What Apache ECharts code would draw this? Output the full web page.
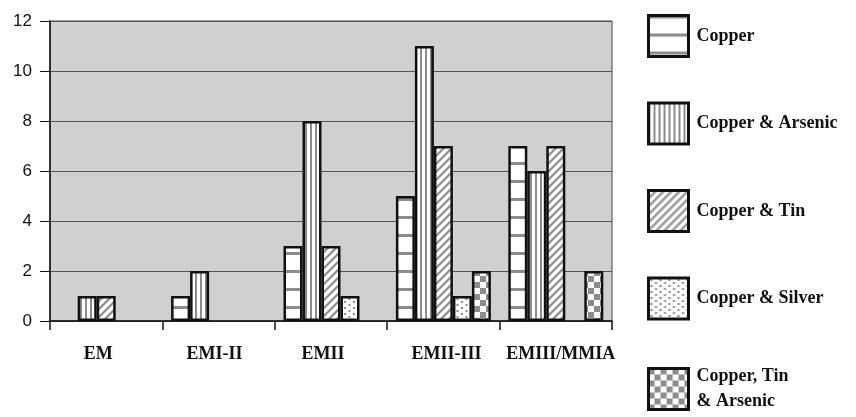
<!DOCTYPE html>
<html>
<head>
<meta charset="utf-8">
<script src="https://cdn.jsdelivr.net/npm/echarts@6/dist/echarts.min.js"></script>
<style>
html,body{margin:0;padding:0;background:#fff;}
#c{width:856px;height:417px;}
</style>
</head>
<body>
<div id="c"></div>
<script>
var categories = ['EM', 'EMI-II', 'EMII', 'EMII-III', 'EMIII/MMIA'];
var seriesNames = ['Copper', 'Copper & Arsenic', 'Copper & Tin', 'Copper & Silver', 'Copper, Tin\n& Arsenic'];
var copper = [0, 1, 3, 5, 7];
var copperArsenic = [1, 2, 8, 11, 6];
var copperTin = [1, 0, 3, 7, 7];
var copperSilver = [0, 0, 1, 1, 0];
var copperTinArsenic = [0, 0, 0, 2, 2];
var yTicks = [0, 2, 4, 6, 8, 10, 12];
// small horizontal nudges of the category labels (px, negative = left)
var labelShift = [-8, -4, -8, 3, 5];

var GRAY = '#8c8c8c';
function tile(w, h, draw) {
  var c = document.createElement('canvas');
  c.width = w; c.height = h;
  var g = c.getContext('2d');
  g.fillStyle = '#ffffff';
  g.fillRect(0, 0, w, h);
  g.fillStyle = GRAY; g.strokeStyle = GRAY;
  draw(g, w, h);
  return { image: c, repeat: 'repeat' };
}
var patHoriz = tile(8, 18, function (g, w, h) { g.fillRect(0, 0, w, 3); });
var patVert = tile(5, 8, function (g, w, h) { g.fillRect(0, 0, 2, h); });
var patDiag = tile(8, 8, function (g, w, h) {
  g.lineWidth = 2.2;
  g.beginPath();
  g.moveTo(-2, h + 2); g.lineTo(w + 2, -2);
  g.moveTo(-2, 2); g.lineTo(2, -2);
  g.moveTo(w - 2, h + 2); g.lineTo(w + 2, h - 2);
  g.stroke();
});
var patDots = tile(9, 12, function (g, w, h) {
  g.fillRect(2, 1, 2, 2); g.fillRect(2, 7, 2, 2);
  g.fillRect(6.5, 4, 2, 2); g.fillRect(6.5, 10, 2, 2);
});
var patCheck = tile(12, 12, function (g, w, h) {
  g.fillRect(0, 0, 6, 6); g.fillRect(6, 6, 6, 6);
});
var patterns = [patHoriz, patVert, patDiag, patDots, patCheck];
var allData = [copper, copperArsenic, copperTin, copperSilver, copperTinArsenic];

var series = allData.map(function (arr, i) {
  return {
    name: seriesNames[i],
    type: 'bar',
    barWidth: 19,
    barGap: '0%',
    data: arr.map(function (v) { return v === 0 ? null : v; }),
    itemStyle: { color: patterns[i], borderColor: '#111', borderWidth: 2.5 },
    emphasis: { disabled: true },
    animation: false
  };
});

var catData = categories.map(function (c, i) {
  var s = labelShift[i];
  return { value: c, textStyle: { padding: s < 0 ? [0, -2 * s, 0, 0] : [0, 0, 0, 2 * s] } };
});

var chart = echarts.init(document.getElementById('c'), null, { renderer: 'canvas' });
chart.setOption({
  animation: false,
  backgroundColor: '#ffffff',
  grid: {
    left: 50, right: 244, top: 21, bottom: 96,
    show: true, backgroundColor: '#d0d0d0', borderColor: '#444', borderWidth: 1
  },
  legend: {
    type: 'plain',
    orient: 'vertical',
    left: 647, top: 14,
    padding: 0,
    itemWidth: 40, itemHeight: 41, itemGap: 43.5,
    selectedMode: false,
    icon: 'rect',
    itemStyle: { borderColor: '#111', borderWidth: 3 },
    textStyle: { fontFamily: 'Liberation Serif', fontWeight: 'bold', fontSize: 18, color: '#111', lineHeight: 25, padding: [0, 0, 0, 3] },
    data: seriesNames
  },
  xAxis: {
    type: 'category',
    data: catData,
    axisLine: { lineStyle: { color: '#111', width: 1.5 } },
    axisTick: { show: true, length: 9, lineStyle: { color: '#111', width: 1.5 } },
    axisLabel: { interval: 0, margin: 24, fontFamily: 'Liberation Serif', fontWeight: 'bold', fontSize: 18, color: '#111' }
  },
  yAxis: {
    type: 'value',
    min: yTicks[0], max: yTicks[yTicks.length - 1], interval: 2,
    axisLine: { show: true, lineStyle: { color: '#111', width: 1.5 } },
    axisTick: { show: true, length: 10, lineStyle: { color: '#111', width: 1 } },
    splitLine: { lineStyle: { color: '#555', width: 1 } },
    axisLabel: { margin: 18, fontFamily: 'Liberation Sans', fontSize: 17, color: '#111' }
  },
  series: series
});
</script>
</body>
</html>
